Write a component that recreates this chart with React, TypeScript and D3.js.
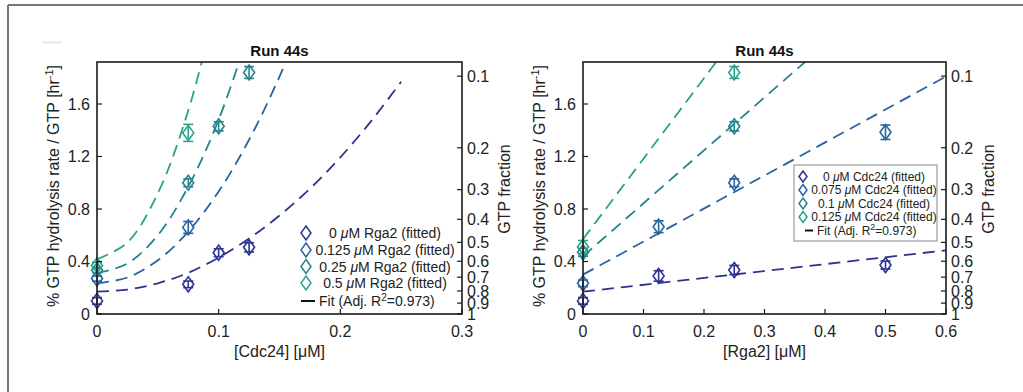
import * as d3 from 'd3';

// series colours (0 -> highest concentration)
const colors = ['#2c3391', '#2a62a0', '#26838f', '#2ba38a'];

const rateTicks = [0, 0.4, 0.8, 1.2, 1.6];
const rateTickLabels = ['0', '0.4', '0.8', '1.2', '1.6'];
const fractionTicks = [0.1, 0.2, 0.3, 0.4, 0.5, 0.6, 0.7, 0.8, 0.9, 1];
const fractionTickLabels = ['0.1', '0.2', '0.3', '0.4', '0.5', '0.6', '0.7', '0.8', '0.9', '1'];
const K = 0.787; // rate = -K * ln(fraction)

// left panel: x = [Cdc24], series = Rga2
const cdcTicks = [0, 0.1, 0.2, 0.3];
const cdcTickLabels = ['0', '0.1', '0.2', '0.3'];
const rga2Labels = ['0', '0.125', '0.25', '0.5'];
const leftFitX = [0, 0.025, 0.05, 0.075, 0.1, 0.125, 0.15, 0.175, 0.2, 0.225, 0.25];
const leftFit0 = [0.17, 0.186, 0.234, 0.314, 0.43, 0.575, 0.75, 0.955, 1.194, 1.466, 1.77];
const leftFit1 = [0.234, 0.278, 0.409, 0.628, 0.934, 1.328, 1.809, 2.38];
const leftFit2 = [0.31, 0.385, 0.6, 0.97, 1.48, 2.15];
const leftFit3 = [0.417, 0.545, 0.92, 1.55, 2.43];
const leftPtX = [[0, 0.075, 0.1, 0.125], [0, 0.075], [0, 0.075, 0.1, 0.125], [0, 0.075]];
const leftPtY = [[0.1, 0.226, 0.467, 0.508], [0.27, 0.66], [0.335, 1.0, 1.43, 1.84], [0.37, 1.38]];
const leftPtErr = [[0.025, 0.025, 0.03, 0.035], [0.02, 0.045], [0.02, 0.03, 0.035, 0.045], [0.025, 0.065]];

// right panel: x = [Rga2], series = Cdc24
const rgaTicks = [0, 0.1, 0.2, 0.3, 0.4, 0.5, 0.6];
const rgaTickLabels = ['0', '0.1', '0.2', '0.3', '0.4', '0.5', '0.6'];
const cdcLabels = ['0', '0.075', '0.1', '0.125'];
const rightFitX = [0, 0.6];
const rightFit0 = [0.17, 0.485];
const rightFit1 = [0.3, 1.81];
const rightFit2 = [0.44, 2.86];
const rightFit3 = [0.57, 4.25];
const rightPtX = [[0, 0.125, 0.25, 0.5], [0, 0.125, 0.25, 0.5], [0, 0.25], [0, 0.25]];
const rightPtY = [[0.1, 0.29, 0.335, 0.373], [0.234, 0.665, 1.0, 1.385], [0.47, 1.43], [0.51, 1.84]];
const rightPtErr = [[0.025, 0.04, 0.035, 0.03], [0.025, 0.045, 0.03, 0.055], [0.03, 0.035], [0.05, 0.045]];

const FONT = 'Liberation Sans, Arial, Helvetica, sans-serif';
const TOP = 62;
const BOTTOM = 314;

function diamond(cx: number, cy: number, hw: number, hh: number) {
  return `M${cx},${cy - hh}L${cx + hw},${cy}L${cx},${cy + hh}L${cx - hw},${cy}Z`;
}

function Panel(props: any) {
  const { id, x0, x1, xMax, xTicks, xTickLabels, xLabel, fitX, fits, ptX, ptY, ptErr, legend } = props;
  const x = d3.scaleLinear().domain([0, xMax]).range([x0, x1]);
  const y = d3.scaleLinear().domain([0, 1.92]).range([BOTTOM, TOP]);
  const line = d3.line<number>()
    .x((_, i) => x(fitX[i]))
    .y(d => y(d))
    .curve(d3.curveCatmullRom);
  const cx = (x0 + x1) / 2;

  return (
    <g fontFamily={FONT}>
      <defs>
        <clipPath id={id}>
          <rect x={x0} y={TOP} width={x1 - x0} height={BOTTOM - TOP} />
        </clipPath>
      </defs>
      <g clipPath={`url(#${id})`}>
        {fits.map((f: number[], s: number) => (
          <path key={s} d={line(f) || ''} fill="none" stroke={colors[s]} strokeWidth={1.8}
            strokeDasharray="12 7" />
        ))}
      </g>
      {ptX.map((xs: number[], s: number) => xs.map((xv, j) => {
        const px = x(xv), py = y(ptY[s][j]);
        const e1 = y(ptY[s][j] + ptErr[s][j]), e0 = y(ptY[s][j] - ptErr[s][j]);
        return (
          <g key={`${s}-${j}`} stroke={colors[s]} strokeWidth={1.6} fill="none">
            <line x1={px} x2={px} y1={e0} y2={e1} />
            <line x1={px - 5} x2={px + 5} y1={e0} y2={e0} />
            <line x1={px - 5} x2={px + 5} y1={e1} y2={e1} />
            <path d={diamond(px, py, 5.5, 7.5)} />
          </g>
        );
      }))}
      {/* axes box */}
      <rect x={x0} y={TOP} width={x1 - x0} height={BOTTOM - TOP} fill="none" stroke="#1a1a1a" strokeWidth={1.6} />
      {xTicks.map((t: number, i: number) => (
        <g key={t}>
          <line x1={x(t)} x2={x(t)} y1={BOTTOM} y2={BOTTOM - 5} stroke="#1a1a1a" strokeWidth={1.2} />
          <text x={x(t)} y={BOTTOM + 23} fontSize={16} textAnchor="middle" fill="#222">{xTickLabels[i]}</text>
        </g>
      ))}
      {rateTicks.map((t, i) => (
        <g key={t}>
          <line x1={x0} x2={x0 + 5} y1={y(t)} y2={y(t)} stroke="#1a1a1a" strokeWidth={1.2} />
          <text x={x0 - 7} y={y(t)} dy="0.36em" fontSize={16} textAnchor="end" fill="#222">{rateTickLabels[i]}</text>
        </g>
      ))}
      {fractionTicks.map((f, i) => {
        const py = y(-K * Math.log(f));
        return (
          <g key={f}>
            <line x1={x1} x2={x1 - 5} y1={py} y2={py} stroke="#1a1a1a" strokeWidth={1.2} />
            <text x={x1 + 5} y={py} dy="0.36em" fontSize={16} fill="#222">{fractionTickLabels[i]}</text>
          </g>
        );
      })}
      <text x={cx} y={56} fontSize={15} fontWeight="bold" textAnchor="middle" fill="#111">Run 44s</text>
      <text x={cx} y={357} fontSize={16} textAnchor="middle" fill="#222">{xLabel}</text>
      <text transform={`translate(${x0 - 38},186) rotate(-90)`} fontSize={16} textAnchor="middle" fill="#222">
        % GTP hydrolysis rate / GTP [hr<tspan dy={-6} fontSize={11}>-1</tspan><tspan dy={6}>]</tspan>
      </text>
      <text transform={`translate(${x1 + 48},189) rotate(-90)`} fontSize={16} textAnchor="middle" fill="#222">GTP fraction</text>
      {legend}
    </g>
  );
}

function LegendRows(props: any) {
  const { labels, unit, mx, textX, rows, fitY, fitX0, fitX1, fitTextX, fontSize, hw, hh, supSize } = props;
  return (
    <g fontFamily={FONT} fill="#222">
      {labels.map((l: string, i: number) => (
        <g key={l}>
          <path d={diamond(mx, rows[i], hw, hh)} fill="none" stroke={colors[i]} strokeWidth={1.5} />
          <text x={textX} y={rows[i]} dy="0.36em" fontSize={fontSize} textAnchor="middle">
            {l} <tspan fontStyle="italic">μ</tspan>M {unit} (fitted)
          </text>
        </g>
      ))}
      <line x1={fitX0} x2={fitX1} y1={fitY} y2={fitY} stroke="#111" strokeWidth={2} />
      <text x={fitTextX} y={fitY} dy="0.36em" fontSize={fontSize}>
        Fit (Adj. R<tspan dy={-5} fontSize={supSize}>2</tspan><tspan dy={5}>=0.973)</tspan>
      </text>
    </g>
  );
}

export default function App() {
  const leftLegend = (
    <LegendRows labels={rga2Labels} unit="Rga2" mx={306} textX={385} rows={[233, 250, 266.5, 283]}
      fitY={301} fitX0={301} fitX1={315} fitTextX={319} fontSize={14} hw={5} hh={7} supSize={10} />
  );
  const rightLegend = (
    <g>
      <rect x={794} y={165} width={143} height={76} fill="#fff" stroke="#888" strokeWidth={1} />
      <LegendRows labels={cdcLabels} unit="Cdc24" mx={803} textX={874} rows={[176.5, 190, 203.5, 217]}
        fitY={230.5} fitX0={805} fitX1={813} fitTextX={817} fontSize={12} hw={4} hh={5.5} supSize={9} />
    </g>
  );
  return (
    <svg width={1023} height={392} style={{ position: 'absolute', left: 0, top: 0, background: '#fff' }}>
      <rect x={0} y={0} width={1023} height={392} fill="#fff" />
      <line x1={8} x2={1023} y1={5} y2={5} stroke="#777" strokeWidth={2} />
      <line x1={8} x2={8} y1={5} y2={392} stroke="#777" strokeWidth={2} />
      <line x1={42} x2={62} y1={42.5} y2={42.5} stroke="#e6e6e6" strokeWidth={2} />
      <Panel id="clipL" x0={97} x1={462} xMax={0.3} xTicks={cdcTicks} xTickLabels={cdcTickLabels}
        xLabel="[Cdc24] [μM]" fitX={leftFitX} fits={[leftFit0, leftFit1, leftFit2, leftFit3]}
        ptX={leftPtX} ptY={leftPtY} ptErr={leftPtErr} legend={leftLegend} />
      <Panel id="clipR" x0={583} x1={946} xMax={0.6} xTicks={rgaTicks} xTickLabels={rgaTickLabels}
        xLabel="[Rga2] [μM]" fitX={rightFitX} fits={[rightFit0, rightFit1, rightFit2, rightFit3]}
        ptX={rightPtX} ptY={rightPtY} ptErr={rightPtErr} legend={rightLegend} />
    </svg>
  );
}
